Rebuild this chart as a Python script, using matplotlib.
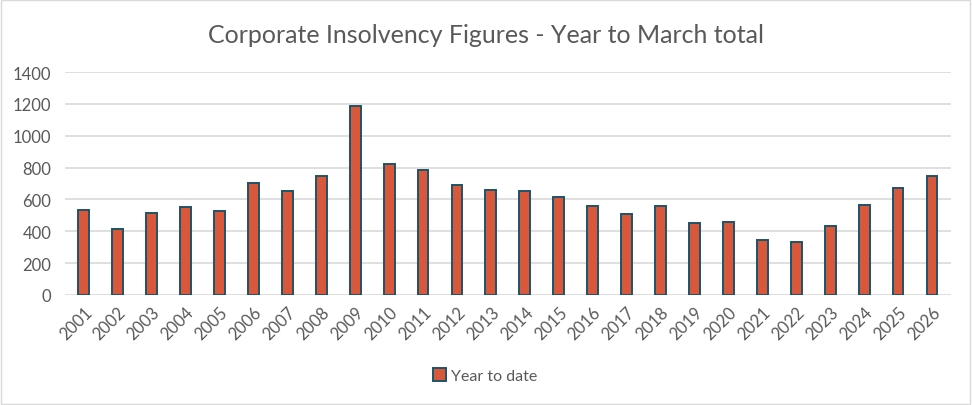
import numpy as np
import matplotlib.pyplot as plt

# data
years = [str(y) for y in range(2001, 2027)]
year_to_date = [533, 413, 512, 551, 526, 703, 652, 746, 1188,
                820, 786, 690, 662, 650, 614, 556, 507, 556,
                455, 460, 348, 330, 432, 566, 672, 749]
y_ticks = [0, 200, 400, 600, 800, 1000, 1200, 1400]

plt.rcParams['font.family'] = ['Lato', 'DejaVu Sans']
grey = '#595959'

fig = plt.figure(figsize=(9.72, 4.06), dpi=100)
ax = fig.add_axes([0.067, 0.271, 0.911, 0.549])

x = np.arange(len(years))
ax.bar(x, year_to_date, width=0.32, color='#D9583B', edgecolor='#1B5468',
       linewidth=1.4, label='Year to date', zorder=3)

ax.set_xlim(-0.55, len(years) - 0.45)
ax.set_ylim(0, 1400)
ax.set_yticks(y_ticks)
ax.set_xticks(x)
ax.set_xticklabels(years, rotation=45, ha='right', rotation_mode='anchor')
ax.tick_params(axis='both', length=0, colors=grey, labelsize=12)
ax.tick_params(axis='x', pad=6)
ax.tick_params(axis='y', pad=10)
ax.grid(axis='y', color='#D9D9D9', linewidth=1.2, zorder=0)
for s in ax.spines.values():
    s.set_visible(False)

fig.suptitle('Corporate Insolvency Figures - Year to March total', y=0.942,
             fontsize=18, color=grey)

fig.legend(loc='center', bbox_to_anchor=(0.499, 0.072), frameon=False,
           fontsize=11.5, labelcolor=grey, handlelength=0.8, handleheight=0.8,
           handletextpad=0.3)

# light chart border
fig.patches.append(plt.Rectangle((0.001, 0.002), 0.997, 0.995, transform=fig.transFigure,
                                 fill=False, edgecolor='#D9D9D9', linewidth=1))

fig.savefig('out.png', dpi=100)
